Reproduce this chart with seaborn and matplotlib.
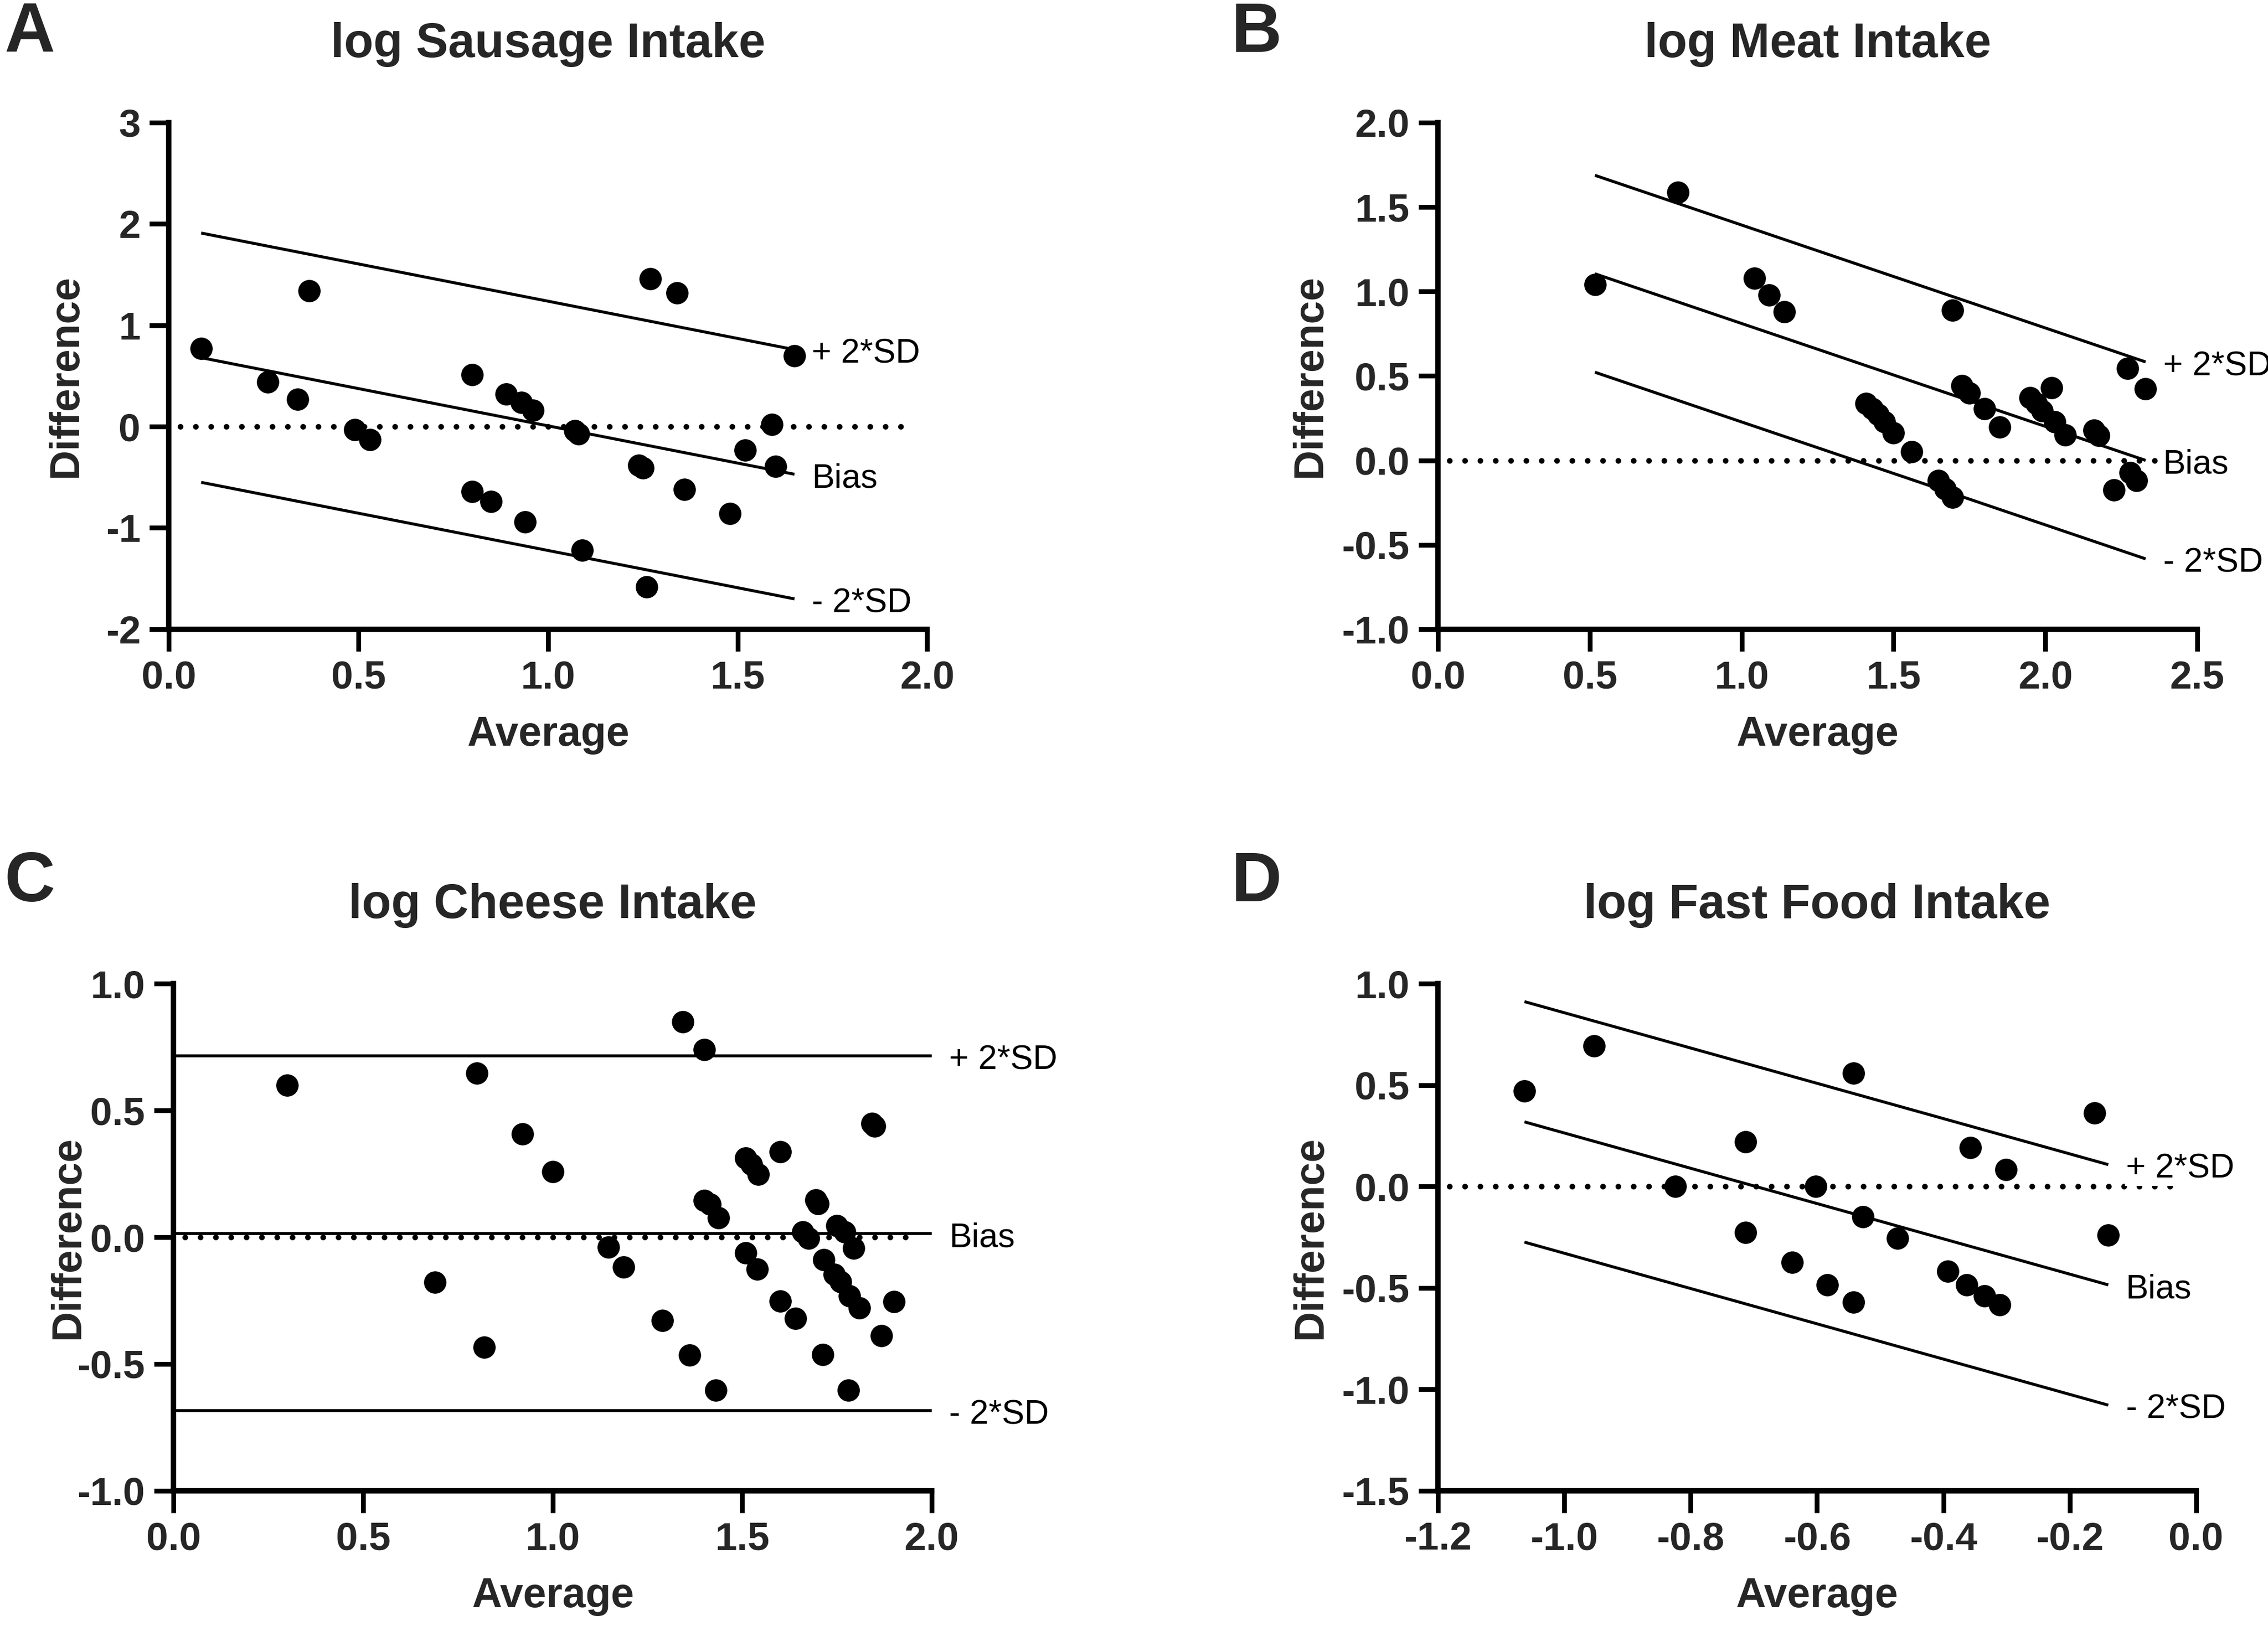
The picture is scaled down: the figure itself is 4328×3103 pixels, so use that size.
import matplotlib
matplotlib.use("Agg")
import matplotlib.pyplot as plt
from matplotlib import font_manager
import seaborn as sns
import numpy as np

# ---- data ----
titles = ["log Sausage Intake", "log Meat Intake", "log Cheese Intake", "log Fast Food Intake"]
letters = ["A", "B", "C", "D"]

sausage_avg = [0.085, 0.26, 0.34, 0.37, 0.49, 0.53, 0.80, 0.80, 0.85, 0.89, 0.93, 0.96, 0.94, 1.07,
               1.08, 1.09, 1.24, 1.25, 1.27, 1.34, 1.36, 1.48, 1.26, 1.52, 1.59, 1.60, 1.65]
sausage_diff = [0.77, 0.44, 0.27, 1.34, -0.03, -0.13, 0.51, -0.64, -0.74, 0.32, 0.24, 0.16, -0.94, -0.04,
                -0.07, -1.22, -0.38, -0.41, 1.46, 1.32, -0.62, -0.86, -1.58, -0.23, 0.02, -0.39, 0.70]

meat_avg = [0.517, 0.79, 1.043, 1.09, 1.14, 1.694, 1.41, 1.43, 1.45, 1.47, 1.50, 1.56, 1.647, 1.67, 1.694,
            1.725, 1.75, 1.80, 1.85, 1.95, 1.97, 1.99, 2.02, 2.03, 2.066, 2.16, 2.175, 2.27, 2.33, 2.225,
            2.28, 2.30]
meat_diff = [1.04, 1.586, 1.078, 0.98, 0.88, 0.889, 0.338, 0.305, 0.272, 0.229, 0.163, 0.05, -0.12, -0.17,
             -0.218, 0.442, 0.40, 0.305, 0.196, 0.37, 0.338, 0.294, 0.43, 0.229, 0.152, 0.18, 0.148, 0.545,
             0.425, -0.174, -0.072, -0.12]

cheese_avg = [0.30, 0.80, 0.69, 0.82, 0.92, 1.00, 1.147, 1.187, 1.29, 1.344, 1.362, 1.40, 1.40, 1.415,
              1.438, 1.43, 1.51, 1.525, 1.543, 1.51, 1.54, 1.60, 1.60, 1.64, 1.695, 1.70, 1.66, 1.675,
              1.715, 1.743, 1.76, 1.75, 1.77, 1.794, 1.713, 1.783, 1.81, 1.78, 1.843, 1.85, 1.868, 1.90]
cheese_diff = [0.60, 0.647, -0.178, -0.433, 0.408, 0.258, -0.04, -0.118, -0.328, 0.85, -0.465, 0.741, 0.145,
               0.13, 0.077, -0.604, 0.313, 0.287, 0.249, -0.061, -0.125, 0.337, -0.252, -0.32, 0.147, 0.132,
               0.021, -0.005, -0.088, -0.146, -0.176, 0.046, 0.021, -0.043, -0.463, -0.232, -0.278, -0.604,
               0.448, 0.439, -0.389, -0.255]

fastfood_avg = [-1.063, -0.953, -0.824, -0.713, -0.713, -0.639, -0.602, -0.584, -0.542, -0.542, -0.527,
                -0.473, -0.393, -0.363, -0.357, -0.335, -0.311, -0.301, -0.161, -0.139]
fastfood_diff = [0.472, 0.694, 0.0, 0.22, -0.226, -0.374, 0.0, -0.484, 0.558, -0.569, -0.15, -0.256,
                 -0.419, -0.484, 0.192, -0.539, -0.583, 0.083, 0.362, -0.239]

# bias line (slope, intercept) and the 2*SD half width
bias_slope = [-0.735, -0.6095, 0.0, -0.87]
bias_intercept = [0.7425, 1.420, 0.015, -0.606]
sd2 = [1.23, 0.583, 0.70, 0.593]
line_labels = ["+ 2*SD", "Bias", "- 2*SD"]

xlims = [(0, 2), (0, 2.5), (0, 2), (-1.2, 0)]
ylims = [(-2, 3), (-1, 2), (-1, 1), (-1.5, 1)]
xticks = [np.arange(0, 2.01, 0.5), np.arange(0, 2.51, 0.5), np.arange(0, 2.01, 0.5), np.arange(-1.2, 0.01, 0.2)]
yticks = [np.arange(-2, 3.01, 1), np.arange(-1, 2.01, 0.5), np.arange(-1, 1.01, 0.5), np.arange(-1.5, 1.01, 0.5)]
xfmt = ["{:.1f}", "{:.1f}", "{:.1f}", "{:.1f}"]
yfmt = ["{:.0f}", "{:.1f}", "{:.1f}", "{:.1f}"]

averages = [sausage_avg, meat_avg, cheese_avg, fastfood_avg]
differences = [sausage_diff, meat_diff, cheese_diff, fastfood_diff]

# ---- style ----
sns.set_theme(style="ticks")
plt.rcParams["font.family"] = ["Liberation Sans", "DejaVu Sans"]
plt.rcParams["axes.unicode_minus"] = False

installed = {f.name for f in font_manager.fontManager.ttflist}
narrow = "Liberation Sans Narrow" if "Liberation Sans Narrow" in installed else "Liberation Sans"


def fmt(template, v):
    v = round(float(v), 2) + 0.0  # drop the -0.0
    return template.format(v)


fig = plt.figure(figsize=(4328 / 300, 3103 / 300), dpi=300)
positions = [[0.0745, 0.613, 0.3343, 0.3116],
             [0.634, 0.613, 0.3348, 0.3116],
             [0.0765, 0.0832, 0.3343, 0.3118],
             [0.634, 0.0832, 0.3343, 0.3118]]
letter_pos = [(0.002, 0.968), (0.5427, 0.968), (0.002, 0.4457), (0.5427, 0.4457)]
ylabel_x = [-0.11, -0.142, -0.113, -0.142]

for i in range(4):
    ax = fig.add_axes(positions[i])
    x = np.array(averages[i])
    y = np.array(differences[i])

    # zero reference line
    ax.axhline(0, xmin=0.015, xmax=0.985, color="black", lw=2.6,
               linestyle=(0, (0.01, 2.69)), dash_capstyle="round", zorder=1)

    # bias and limits of agreement
    if bias_slope[i] == 0:
        x0, x1 = xlims[i]
    else:
        x0, x1 = x.min(), x.max()
    xs = np.array([x0, x1])
    for k, off in enumerate([sd2[i], 0.0, -sd2[i]]):
        ys = bias_intercept[i] + bias_slope[i] * xs + off
        ax.plot(xs, ys, color="black", lw=1.35, zorder=2, solid_capstyle="butt")
        ax.annotate(line_labels[k], xy=(x1, ys[-1]), xytext=(8, -2), textcoords="offset points",
                    ha="left", va="center", fontsize=15.5, color="black", annotation_clip=False,
                    bbox=dict(fc="white", ec="none", pad=0.5), zorder=3)

    sns.scatterplot(x=x, y=y, ax=ax, color="black", s=105, linewidth=0, zorder=4, clip_on=False)

    ax.set_xlim(*xlims[i])
    ax.set_ylim(*ylims[i])
    ax.set_xticks(xticks[i])
    ax.set_yticks(yticks[i])
    ax.set_xticklabels([fmt(xfmt[i], v) for v in xticks[i]])
    ax.set_yticklabels([fmt(yfmt[i], v) for v in yticks[i]])
    for lab in ax.get_xticklabels() + ax.get_yticklabels():
        lab.set_fontfamily(narrow)
        lab.set_fontweight("bold")
        lab.set_fontsize(18)
    ax.tick_params(axis="x", length=10, width=2.2, pad=4, color="black")
    ax.tick_params(axis="y", length=9, width=2.2, pad=4, color="black")
    sns.despine(ax=ax)
    for side in ["left", "bottom"]:
        ax.spines[side].set_linewidth(2.5)
        ax.spines[side].set_color("black")
    ax.set_facecolor("white")

    ax.set_xlabel("Average", fontsize=19, fontweight="bold")
    ax.set_ylabel("Difference", fontsize=19, fontweight="bold")
    ax.xaxis.set_label_coords(0.5, -0.17)
    ax.yaxis.set_label_coords(ylabel_x[i], 0.5)
    ax.set_title(titles[i], fontsize=22, fontweight="bold", pad=30)

    fig.text(letter_pos[i][0], letter_pos[i][1], letters[i], fontsize=32, fontweight="bold",
             ha="left", va="baseline")

fig.savefig("out.png", dpi=300, facecolor="white")
